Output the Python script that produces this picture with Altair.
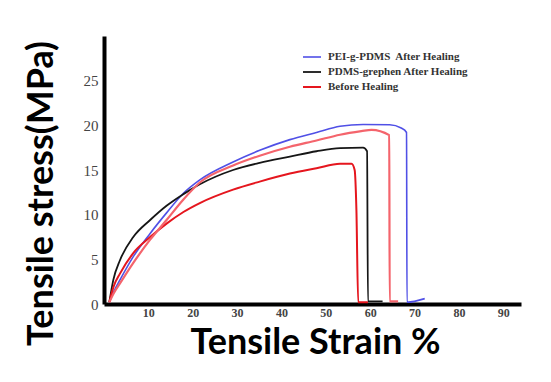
import altair as alt
import pandas as pd

# ---- data ----
series_names = [
    "PEI-g-PDMS\u00a0 After Healing",
    "PDMS-grephen After Healing",
    "\u00a0Before Healing",
    "Before Healing (2)",
]
legend_names = series_names[:3]
series_colors = ["#5050e6", "#161616", "#e5161e", "#f4646c"]
series_widths = [1.6, 2.2, 2.2, 1.6]

blue_x = [1.2, 2.2, 3.6, 6.6, 10.4, 14.1, 17.9, 21.6, 29.1, 35.1, 41.9, 47.9, 53.2, 58.4, 64.4, 67.0, 68.2, 68.3, 72.3]
blue_y = [0.2, 1.4, 2.7, 5.3, 7.9, 10.2, 12.4, 13.9, 15.9, 17.2, 18.4, 19.2, 19.9, 20.1, 20.07, 19.7, 19.2, 0.2, 0.6]

black_x = [1.2, 2.1, 3.6, 6.6, 10.4, 14.1, 17.9, 21.6, 29.1, 35.1, 41.9, 47.9, 53.2, 58.4, 59.3, 59.5, 62.8]
black_y = [0.2, 2.7, 4.9, 7.5, 9.4, 11.0, 12.3, 13.4, 15.0, 15.8, 16.5, 17.1, 17.45, 17.5, 17.1, 0.3, 0.3]

red_x = [1.2, 2.2, 3.6, 6.6, 10.4, 14.1, 17.9, 21.6, 29.1, 35.1, 41.9, 47.9, 53.2, 55.8, 56.5, 56.9, 57.3, 59.5]
red_y = [0.2, 2.0, 3.4, 5.7, 7.5, 9.0, 10.3, 11.3, 12.8, 13.7, 14.6, 15.2, 15.7, 15.7, 15.0, 10.5, 0.2, 0.2]

lred_x = [1.2, 2.2, 3.6, 6.6, 10.4, 14.1, 17.9, 21.6, 29.1, 35.1, 41.9, 47.9, 53.2, 58.0, 60.3, 64.3, 64.4, 66.3]
lred_y = [0.2, 1.2, 2.3, 4.6, 7.2, 9.4, 11.7, 13.6, 15.5, 16.6, 17.6, 18.3, 18.95, 19.35, 19.5, 18.9, 0.3, 0.3]

x_ticks = [10, 20, 30, 40, 50, 60, 70, 80, 90]
y_ticks = [0, 5, 10, 15, 20, 25]

rows = []
for name, xs, ys in zip(series_names, [blue_x, black_x, red_x, lred_x], [blue_y, black_y, red_y, lred_y]):
    for i, (xv, yv) in enumerate(zip(xs, ys)):
        rows.append({"series": name, "strain": xv, "stress": yv, "idx": i})
df = pd.DataFrame(rows)

chart = alt.Chart(df).mark_line(strokeJoin="round", interpolate="monotone").encode(
    x=alt.X("strain:Q", scale=alt.Scale(domain=[0, 94], nice=False, zero=False),
            axis=alt.Axis(values=x_ticks, title="Tensile Strain %", grid=False, ticks=False,
                          domainWidth=4, domainColor="#000", labelFont="Liberation Serif",
                          labelFontWeight="bold", labelFontSize=12, labelColor="#444",
                          labelPadding=3, titleFont="Lato", titleFontWeight="bold",
                          titleFontSize=36, titleColor="#000", titleBaseline="alphabetic",
                          titleY=49, titleX=211, titleAlign="center")),
    y=alt.Y("stress:Q", scale=alt.Scale(domain=[0, 30], nice=False),
            axis=alt.Axis(values=y_ticks, title="Tensile stress(MPa)", grid=False, ticks=False,
                          domainWidth=4, domainColor="#000", labelFont="Liberation Serif",
                          labelFontSize=15, labelColor="#444", labelPadding=6,
                          titleFont="Lato", titleFontWeight="bold", titleFontSize=36,
                          titleColor="#000", titleAngle=270, titleBaseline="alphabetic",
                          titleAlign="center", titleX=-52, titleY=157)),
    color=alt.Color("series:N",
                    scale=alt.Scale(domain=series_names, range=series_colors),
                    legend=alt.Legend(values=legend_names, title=None, orient="none",
                                      legendX=198, legendY=11, symbolType="stroke",
                                      symbolSize=324, symbolStrokeWidth=2.5,
                                      labelFont="Liberation Serif", labelFontWeight="bold",
                                      labelFontSize=11, labelColor="#333", rowPadding=-4,
                                      padding=0, labelOffset=6)),
    strokeWidth=alt.StrokeWidth("series:N",
                                scale=alt.Scale(domain=series_names, range=series_widths),
                                legend=None),
    order="idx:Q",
    detail="series:N",
).properties(
    width=417, height=268,
    autosize=alt.AutoSizeParams(type="none"),
    padding={"left": 96, "top": 28, "right": 20, "bottom": 70},
).configure_view(stroke=None)

chart.save("out.html", embed_options={"renderer": "svg", "actions": False})
